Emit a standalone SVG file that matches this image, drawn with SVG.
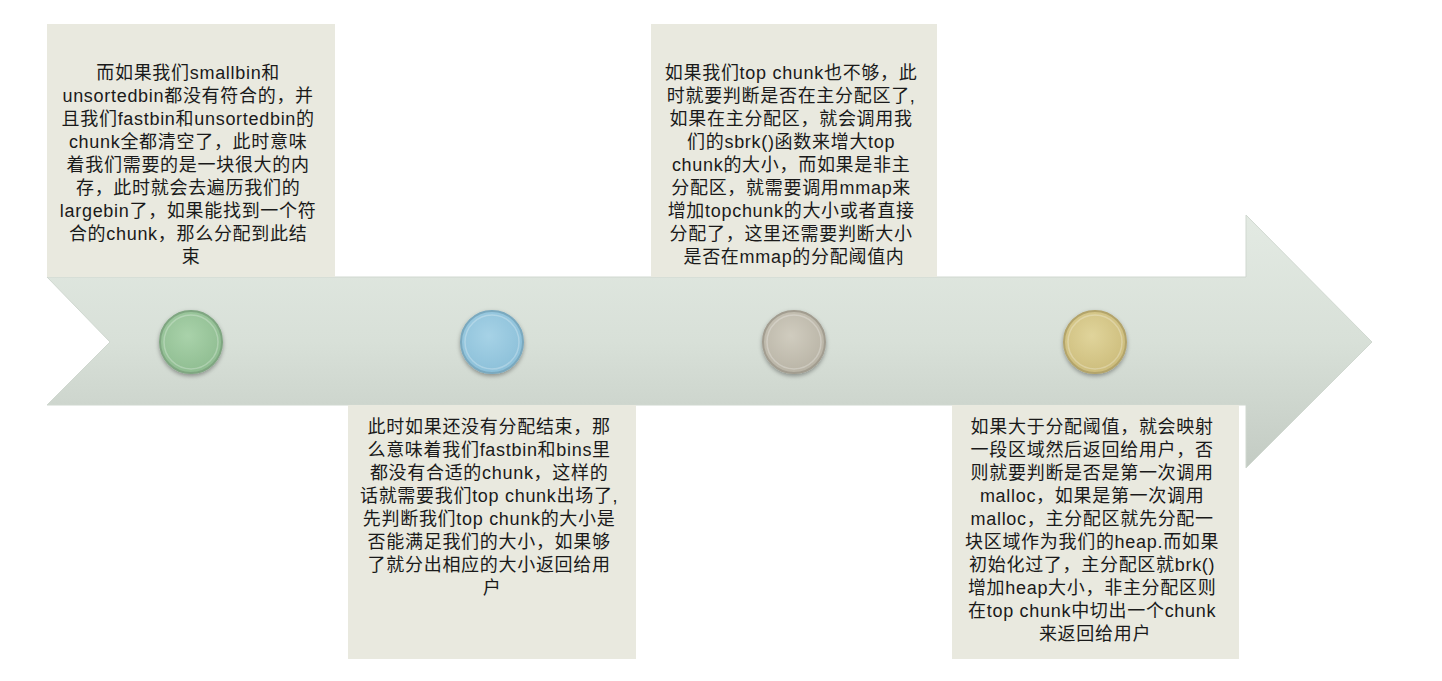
<svg xmlns="http://www.w3.org/2000/svg" width="1442" height="681" viewBox="0 0 1442 681">
<defs>
<linearGradient id="arrowGrad" x1="0" y1="0" x2="0" y2="1">
<stop offset="0" stop-color="#e3eae3"/>
<stop offset="0.5" stop-color="#d8e0d8"/>
<stop offset="1" stop-color="#c3cbc3"/>
</linearGradient>
<radialGradient id="gGreen" cx="0.45" cy="0.4" r="0.6">
<stop offset="0" stop-color="#a9d2aa"/><stop offset="1" stop-color="#8fbd91"/>
</radialGradient>
<radialGradient id="gBlue" cx="0.45" cy="0.4" r="0.6">
<stop offset="0" stop-color="#a6d2e6"/><stop offset="1" stop-color="#8cc0d9"/>
</radialGradient>
<radialGradient id="gGray" cx="0.45" cy="0.4" r="0.6">
<stop offset="0" stop-color="#d0ccbf"/><stop offset="1" stop-color="#b9b4a6"/>
</radialGradient>
<radialGradient id="gGold" cx="0.45" cy="0.4" r="0.6">
<stop offset="0" stop-color="#e0d49b"/><stop offset="1" stop-color="#cdbd7c"/>
</radialGradient>
<filter id="sh" x="-30%" y="-30%" width="160%" height="160%">
<feDropShadow dx="0" dy="2" stdDeviation="2" flood-color="#000" flood-opacity="0.35"/>
</filter>
</defs>
<style>
.box{fill:#e9e9df;}
.t{font-family:"Liberation Sans","Noto Sans CJK SC",sans-serif;font-size:18px;letter-spacing:0.7px;fill:#1a1a1a;text-anchor:middle;}
.dot{stroke-width:2;}
.ring{fill:none;stroke:#ffffff;stroke-opacity:0.25;stroke-width:1.5;}
</style>
<rect width="1442" height="681" fill="#ffffff"/>
<g id="arrow">
<path d="M47,277 L1246,277 L1246,215 L1372,342 L1246,468 L1246,405 L47,405 L110,342 Z" fill="url(#arrowGrad)" stroke="#d0d8d0" stroke-width="1"/>
</g>
<g id="connectors"></g>
<g id="box1">
<rect class="box" x="47" y="24" width="288" height="253"/>
<text class="t">
<tspan x="191" y="79">而如果我们smallbin和</tspan>
<tspan x="191" y="102">unsortedbin都没有符合的，并</tspan>
<tspan x="191" y="125">且我们fastbin和unsortedbin的</tspan>
<tspan x="191" y="148">chunk全都清空了，此时意味</tspan>
<tspan x="191" y="171">着我们需要的是一块很大的内</tspan>
<tspan x="191" y="194">存，此时就会去遍历我们的</tspan>
<tspan x="191" y="217">largebin了，如果能找到一个符</tspan>
<tspan x="191" y="240">合的chunk，那么分配到此结</tspan>
<tspan x="191" y="263">束</tspan>
</text>
</g>
<g id="box2">
<rect class="box" x="651" y="24" width="286" height="253"/>
<text class="t">
<tspan x="794" y="79">如果我们top chunk也不够，此</tspan>
<tspan x="794" y="102">时就要判断是否在主分配区了,</tspan>
<tspan x="794" y="125">如果在主分配区，就会调用我</tspan>
<tspan x="794" y="148">们的sbrk()函数来增大top</tspan>
<tspan x="794" y="171">chunk的大小，而如果是非主</tspan>
<tspan x="794" y="194">分配区，就需要调用mmap来</tspan>
<tspan x="794" y="217">增加topchunk的大小或者直接</tspan>
<tspan x="794" y="240">分配了，这里还需要判断大小</tspan>
<tspan x="794" y="263">是否在mmap的分配阈值内</tspan>
</text>
</g>
<g id="box3">
<rect class="box" x="348" y="405" width="288" height="254"/>
<text class="t">
<tspan x="492" y="433">此时如果还没有分配结束，那</tspan>
<tspan x="492" y="456">么意味着我们fastbin和bins里</tspan>
<tspan x="492" y="479">都没有合适的chunk，这样的</tspan>
<tspan x="492" y="502">话就需要我们top chunk出场了,</tspan>
<tspan x="492" y="525">先判断我们top chunk的大小是</tspan>
<tspan x="492" y="548">否能满足我们的大小，如果够</tspan>
<tspan x="492" y="571">了就分出相应的大小返回给用</tspan>
<tspan x="492" y="594">户</tspan>
</text>
</g>
<g id="box4">
<rect class="box" x="952" y="405" width="287" height="254"/>
<text class="t">
<tspan x="1095" y="433">如果大于分配阈值，就会映射</tspan>
<tspan x="1095" y="456">一段区域然后返回给用户，否</tspan>
<tspan x="1095" y="479">则就要判断是否是第一次调用</tspan>
<tspan x="1095" y="502">malloc，如果是第一次调用</tspan>
<tspan x="1095" y="525">malloc，主分配区就先分配一</tspan>
<tspan x="1095" y="548">块区域作为我们的heap.而如果</tspan>
<tspan x="1095" y="571">初始化过了，主分配区就brk()</tspan>
<tspan x="1095" y="594">增加heap大小，非主分配区则</tspan>
<tspan x="1095" y="617">在top chunk中切出一个chunk</tspan>
<tspan x="1095" y="640">来返回给用户</tspan>
</text>
</g>
<g id="dot1"><circle class="dot" cx="191" cy="342" r="31" fill="url(#gGreen)" stroke="#7fa681" filter="url(#sh)"/><circle class="ring" cx="191" cy="342" r="27"/></g>
<g id="dot2"><circle class="dot" cx="492" cy="342" r="31" fill="url(#gBlue)" stroke="#7aa9bf" filter="url(#sh)"/><circle class="ring" cx="492" cy="342" r="27"/></g>
<g id="dot3"><circle class="dot" cx="794" cy="342" r="31" fill="url(#gGray)" stroke="#a29d90" filter="url(#sh)"/><circle class="ring" cx="794" cy="342" r="27"/></g>
<g id="dot4"><circle class="dot" cx="1095" cy="342" r="31" fill="url(#gGold)" stroke="#b3a46a" filter="url(#sh)"/><circle class="ring" cx="1095" cy="342" r="27"/></g>
</svg>
